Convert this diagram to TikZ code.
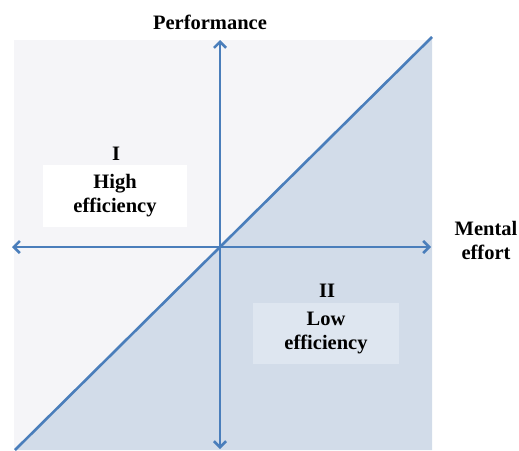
\documentclass[tikz,border=0pt]{standalone}
\usepackage{xcolor}
\usepackage{fontspec}
\setmainfont{Liberation Serif}
\usepackage{tikz}
\usetikzlibrary{arrows.meta}
\definecolor{axisblue}{RGB}{74,126,187}
\definecolor{highfill}{RGB}{245,245,248}
\definecolor{lowfill}{RGB}{210,220,233}
\definecolor{lowbox}{RGB}{222,230,240}
\tikzset{>={Straight Barb[length=6pt,width=12pt,line width=2.6pt]}}
\tikzset{lbl/.style = {font=\bfseries\fontsize{20.5}{24}\selectfont, align=center, inner sep=0pt}}
\tikzset{axisline/.style = {draw=axisblue, line width=2.6pt}}

\begin{document}
\begin{tikzpicture}[x=1pt, y=-1pt]
\useasboundingbox (0,0) rectangle (519,450);
\coordinate (bl) at (14,450);
\coordinate (tl) at (14,40);
\coordinate (tr) at (432,40);
\coordinate (br) at (432,450);
\coordinate (dlow) at (15,450);
\coordinate (dhigh) at (432,37);
\fill [highfill] (bl) -- (tl) -- (tr) -- cycle;
\fill [lowfill] (dlow) -- (dhigh) -- (br) -- cycle;
\coordinate (W) at (12,247);
\coordinate (E) at (431,247);
\coordinate (N) at (220,40);
\coordinate (S) at (220,449);
\draw [axisline, <->] (W) -- (E);
\draw [axisline, <->] (S) -- (N);
\draw [axisline] (dlow) -- (dhigh);
\node [lbl] (perf) at (210,22) {Performance};
\node [lbl] (effort) at (486,240) {Mental\\effort};
\node [lbl] (Q1) at (116,154) {I};
\node [lbl, fill=white, minimum width=144pt, minimum height=62pt] (high) at (115,196) {High\\efficiency};
\node [lbl] (Q2) at (327,291) {II};
\node [lbl, fill=lowbox, minimum width=146pt, minimum height=61pt] (low) at (326,333) {Low\\efficiency};
\end{tikzpicture}
\end{document}
